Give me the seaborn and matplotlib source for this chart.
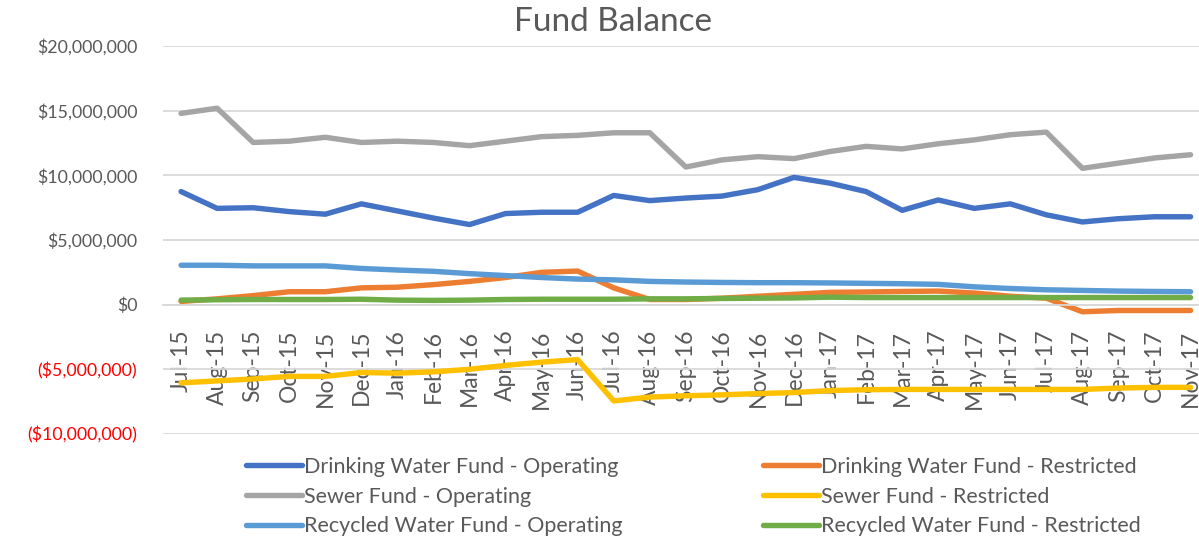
import matplotlib
matplotlib.use("Agg")
import matplotlib.pyplot as plt
import seaborn as sns
import pandas as pd
import numpy as np
from matplotlib.lines import Line2D

months = ["Jul-15", "Aug-15", "Sep-15", "Oct-15", "Nov-15", "Dec-15", "Jan-16", "Feb-16",
          "Mar-16", "Apr-16", "May-16", "Jun-16", "Jul-16", "Aug-16", "Sep-16", "Oct-16",
          "Nov-16", "Dec-16", "Jan-17", "Feb-17", "Mar-17", "Apr-17", "May-17", "Jun-17",
          "Jul-17", "Aug-17", "Sep-17", "Oct-17", "Nov-17"]

drinking_operating = [8.75, 7.45, 7.5, 7.2, 7.0, 7.8, 7.25, 6.7, 6.2, 7.05, 7.15, 7.15, 8.45, 8.05,
                      8.25, 8.4, 8.9, 9.85, 9.4, 8.75, 7.3, 8.1, 7.45, 7.8, 6.95, 6.4, 6.65, 6.8, 6.8]
drinking_restricted = [0.25, 0.45, 0.7, 1.0, 1.0, 1.3, 1.35, 1.55, 1.8, 2.1, 2.5, 2.6, 1.3, 0.4,
                       0.4, 0.5, 0.65, 0.8, 0.95, 0.98, 1.02, 1.05, 0.9, 0.65, 0.5, -0.55, -0.45, -0.45, -0.45]
sewer_operating = [14.8, 15.2, 12.55, 12.65, 12.95, 12.55, 12.65, 12.55, 12.3, 12.65, 13.0, 13.1,
                   13.3, 13.3, 10.65, 11.2, 11.45, 11.3, 11.85, 12.25, 12.05, 12.45, 12.75, 13.15,
                   13.35, 10.55, 10.95, 11.35, 11.6]
sewer_restricted = [-6.05, -5.9, -5.75, -5.55, -5.55, -5.25, -5.3, -5.2, -5.0, -4.7, -4.45, -4.25,
                    -7.45, -7.15, -7.05, -6.98, -6.88, -6.8, -6.65, -6.58, -6.56, -6.56, -6.56,
                    -6.56, -6.56, -6.56, -6.45, -6.4, -6.4]
recycled_operating = [3.05, 3.05, 3.0, 3.0, 3.0, 2.8, 2.68, 2.58, 2.4, 2.25, 2.1, 1.98, 1.92, 1.8,
                      1.75, 1.72, 1.7, 1.7, 1.68, 1.65, 1.62, 1.57, 1.38, 1.25, 1.15, 1.1, 1.05,
                      1.02, 1.0]
recycled_restricted = [0.35, 0.38, 0.4, 0.4, 0.4, 0.42, 0.35, 0.33, 0.35, 0.4, 0.42, 0.42, 0.42, 0.45,
                       0.45, 0.48, 0.5, 0.52, 0.58, 0.55, 0.55, 0.55, 0.55, 0.55, 0.55, 0.55, 0.55,
                       0.55, 0.55]

series_names = ["Drinking Water Fund - Operating", "Drinking Water Fund - Restricted",
                "Sewer Fund - Operating", "Sewer Fund - Restricted",
                "Recycled Water Fund - Operating", "Recycled Water Fund - Restricted"]
series_values = [drinking_operating, drinking_restricted, sewer_operating, sewer_restricted,
                 recycled_operating, recycled_restricted]
series_colors = ["#4472C4", "#ED7D31", "#A5A5A5", "#FFC000", "#5B9BD5", "#70AD47"]

y_ticks = [-10, -5, 0, 5, 10, 15, 20]

FONT = ["Lato", "DejaVu Sans"]
sns.set_theme(style="white")
plt.rcParams["font.family"] = FONT

rows = []
for name, vals in zip(series_names, series_values):
    for i, (m, v) in enumerate(zip(months, vals)):
        rows.append({"idx": i, "month": m, "value": v * 1e6, "series": name})
df = pd.DataFrame(rows)

fig = plt.figure(figsize=(11.99, 5.37), dpi=100)
ax = fig.add_axes([0.136, 0.192, 0.872, 0.722])

LW = 3.9
for k in range(len(series_names)):
    sub = df[df["series"] == series_names[k]]
    sns.lineplot(data=sub, x="idx", y="value", ax=ax, color=series_colors[k],
                 linewidth=LW, solid_capstyle="round", solid_joinstyle="round", legend=False)

ax.set_xlim(-0.5, len(months) - 0.5)
ax.set_ylim(-10e6, 20e6)
ax.set_yticks([t * 1e6 for t in y_ticks])
ylabels = []
for t in y_ticks:
    v = int(t * 1e6)
    ylabels.append("(${:,})".format(-v) if v < 0 else "${:,}".format(v))
ax.set_yticklabels(ylabels)
ax.tick_params(axis="y", length=0, pad=18.5, labelsize=12.8)
for lab, t in zip(ax.get_yticklabels(), y_ticks):
    lab.set_color("#FF0000" if t < 0 else "#595959")

ax.yaxis.grid(True, color="#D9D9D9", linewidth=1.3)
ax.xaxis.grid(False)
ax.set_axisbelow(True)

ax.set_xticks(range(len(months)))
ax.set_xticks(np.arange(-0.5, len(months), 1.0), minor=True)
ax.tick_params(axis="x", which="major", length=0, pad=18, labelsize=16.5, labelcolor="#595959",
               labelrotation=90)
ax.tick_params(axis="x", which="minor", length=6, width=1.2, color="#D9D9D9", direction="out")
ax.set_xticklabels(months)
for lab in ax.get_xticklabels():
    lab.set_rotation(90)
    lab.set_verticalalignment("top")
    lab.set_horizontalalignment("center")
    lab.set_color("#595959")

for s in ["left", "top", "right"]:
    ax.spines[s].set_visible(False)
ax.spines["bottom"].set_position(("data", 0))
ax.spines["bottom"].set_color("#D9D9D9")
ax.spines["bottom"].set_linewidth(1.3)
ax.set_xlabel("")
ax.set_ylabel("")

fig.text(0.511, 0.959, "Fund Balance", ha="center", va="center", fontsize=24, color="#595959")

order = [0, 2, 4, 1, 3, 5]
handles = [Line2D([0], [0], color=series_colors[k], linewidth=LW, solid_capstyle="round")
           for k in order]
labels = [series_names[k] for k in order]
leg = fig.legend(handles, labels, loc="lower left", bbox_to_anchor=(0.198, -0.015), ncol=2,
                 frameon=False, fontsize=15.5, handlelength=2.6, handletextpad=0.1,
                 columnspacing=6.5, labelspacing=0.46, borderaxespad=0)
for t in leg.get_texts():
    t.set_color("#595959")

fig.savefig("out.png", dpi=100)
